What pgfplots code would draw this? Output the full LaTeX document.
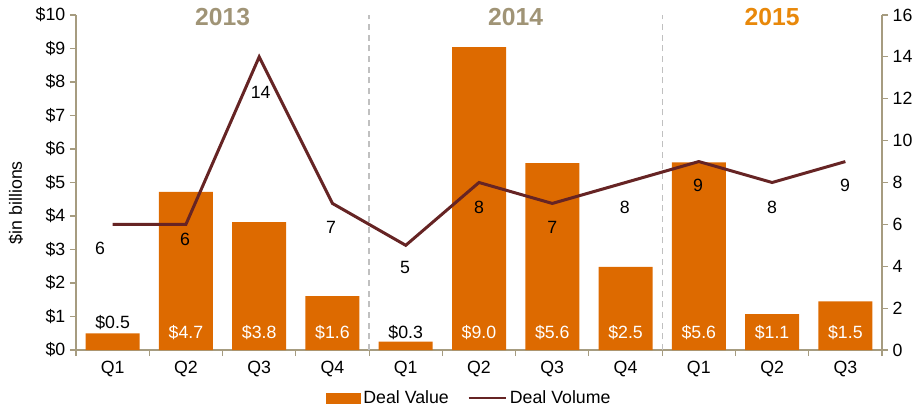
\documentclass[border=0pt]{standalone}
\usepackage{pgfplots}
\pgfplotsset{compat=1.18}
\usepackage{fontspec}
\setmainfont{Liberation Sans}
\definecolor{barc}{RGB}{221,106,0}
\definecolor{linec}{RGB}{102,36,36}
\definecolor{axc}{RGB}{166,156,128}
\definecolor{yr}{RGB}{160,148,118}
\definecolor{yrf}{RGB}{232,136,10}
\definecolor{dashc}{RGB}{192,192,192}
\newcommand{\lf}{\fontsize{13.3}{16}\selectfont}
\begin{document}
\begin{tikzpicture}
\pgfplotsset{
  base/.style={scale only axis, width=604.5pt, height=251.25pt,
    xmin=-0.5, xmax=10.5, clip=false,
    /pgf/number format/assume math mode=true,
    tick label style={font=\lf},
    axis line style={draw=axc, line width=0.8pt},
    tick style={draw=axc, line width=0.8pt},
    tick align=outside,
    major tick length=4.5pt, minor tick length=4.5pt,
  }
}
\begin{axis}[base, name=ax,
  ymin=0, ymax=10, ytick={0,1,...,10},
  yticklabel={\$\pgfmathprintnumber{\tick}},
  axis x line*=bottom, axis y line*=left,
  xtick={0,...,10}, xticklabels={Q1,Q2,Q3,Q4,Q1,Q2,Q3,Q4,Q1,Q2,Q3},
  major x tick style={draw=none},
  minor xtick={-0.5,0.5,...,10.5},
  ylabel={\$in billions},
  ylabel style={font=\lf, at={(axis description cs:-0.0744,0.44)}, anchor=center},
]
\addplot[ybar, bar width=0.737, fill=barc, draw=none] coordinates {
  (0,0.5) (1,4.72) (2,3.82) (3,1.61) (4,0.25) (5,9.04) (6,5.58) (7,2.48) (8,5.6) (9,1.07) (10,1.45)};
\addplot[dashc, dash pattern=on 4.5pt off 3.5pt, line width=0.9pt, forget plot] coordinates {(3.5,0) (3.5,10)};
\addplot[dashc, dash pattern=on 4.5pt off 3.5pt, line width=0.9pt, forget plot] coordinates {(7.5,0) (7.5,10)};
\node[font=\lf] at (axis cs:0,0.81) {\$0.5};
\node[font=\lf, text=white] at (axis cs:1,0.51) {\$4.7};
\node[font=\lf, text=white] at (axis cs:2,0.51) {\$3.8};
\node[font=\lf, text=white] at (axis cs:3,0.51) {\$1.6};
\node[font=\lf] at (axis cs:4,0.51) {\$0.3};
\node[font=\lf, text=white] at (axis cs:5,0.51) {\$9.0};
\node[font=\lf, text=white] at (axis cs:6,0.51) {\$5.6};
\node[font=\lf, text=white] at (axis cs:7,0.51) {\$2.5};
\node[font=\lf, text=white] at (axis cs:8,0.51) {\$5.6};
\node[font=\lf, text=white] at (axis cs:9,0.51) {\$1.1};
\node[font=\lf, text=white] at (axis cs:10,0.51) {\$1.5};
\node[font=\fontsize{18.5}{20}\selectfont\bfseries, text=yr] at (axis cs:1.5,9.94) {2013};
\node[font=\fontsize{18.5}{20}\selectfont\bfseries, text=yr] at (axis cs:5.5,9.94) {2014};
\node[font=\fontsize{18.5}{20}\selectfont\bfseries, text=yrf] at (axis cs:9.0,9.94) {2015};
\end{axis}
\begin{axis}[base,
  ymin=0, ymax=16, ytick={0,2,...,16},
  axis y line*=right, axis x line=none,
  legend style={at={(axis description cs:0.488,-0.143)}, anchor=center, draw=none,
    font=\lf, legend columns=2,
    /tikz/every even column/.append style={column sep=12pt}},
]
\addlegendimage{legend image code/.code={\fill[barc] (0pt,-3.75pt) rectangle (26pt,3.75pt);}}
\addlegendentry{Deal Value}
\addplot[linec, line width=2.25pt,
  legend image code/.code={\draw[linec, line width=1.8pt] (0pt,0pt) -- (28pt,0pt);}]
  coordinates {(0,6) (1,6) (2,14) (3,7) (4,5) (5,8) (6,7) (7,8) (8,9) (9,8) (10,9)};
\addlegendentry{Deal Volume}
\node[font=\lf] at (axis cs:-0.17,4.87) {6};
\node[font=\lf] at (axis cs:0.99,5.30) {6};
\node[font=\lf] at (axis cs:2.02,12.32) {14};
\node[font=\lf] at (axis cs:2.98,5.87) {7};
\node[font=\lf] at (axis cs:3.99,3.92) {5};
\node[font=\lf] at (axis cs:5.0,6.80) {8};
\node[font=\lf] at (axis cs:6.0,5.87) {7};
\node[font=\lf] at (axis cs:6.99,6.83) {8};
\node[font=\lf] at (axis cs:7.99,7.88) {9};
\node[font=\lf] at (axis cs:9.0,6.83) {8};
\node[font=\lf] at (axis cs:9.995,7.88) {9};
\end{axis}
\pgfresetboundingbox
\path ([xshift=-57pt,yshift=-46.5pt]ax.south west) rectangle ([xshift=26.25pt,yshift=11.25pt]ax.north east);
\end{tikzpicture}
\end{document}
